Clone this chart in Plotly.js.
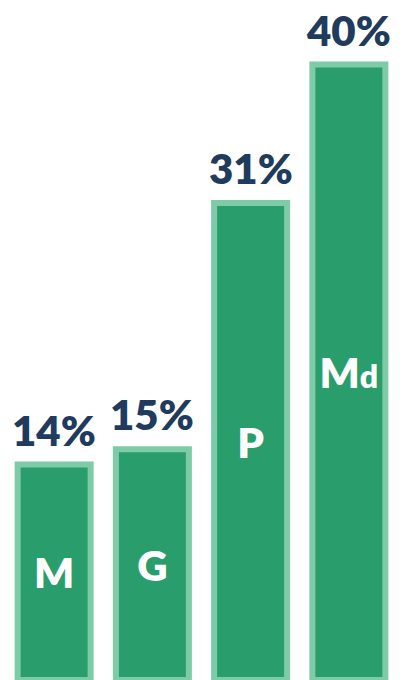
<!DOCTYPE html>
<html>
<head>
<meta charset="utf-8">
<script src="https://cdn.plot.ly/plotly-3.0.1.min.js"></script>
<style>html,body{margin:0;padding:0;background:#fff;}#chart{width:407px;height:680px;}</style>
</head>
<body>
<div id="chart"></div>
<script>
var categories = ["M", "G", "P", "Md"];
var barLabels = ["M", "G", "P", "M<span style='font-size:32px'>d</span>"];
var values = [14, 15, 31, 40];
var valueLabels = ["14%", "15%", "31%", "40%"];

var trace = {
  type: "bar",
  x: categories,
  y: values,
  text: barLabels,
  textposition: "inside",
  insidetextanchor: "middle",
  textangle: 0,
  constraintext: "none",
  textfont: {family: "Lato, 'Open Sans', sans-serif", size: 42, color: "#ffffff", weight: 800},
  marker: {color: "#2a9d6c", line: {color: "#7ecba7", width: 6}},
  hoverinfo: "none"
};

var annotations = categories.map(function (c, i) {
  return {
    x: c, y: values[i], xref: "x", yref: "y",
    text: valueLabels[i], showarrow: false,
    yanchor: "bottom", yshift: 8,
    font: {family: "Lato, 'Open Sans', sans-serif", size: 42, color: "#1f3b5d", weight: 800}
  };
});

var layout = {
  width: 407, height: 680,
  margin: {l: 5, r: 9, t: 0, b: 0, pad: 0},
  paper_bgcolor: "#ffffff", plot_bgcolor: "#ffffff",
  showlegend: false,
  bargap: 0.257,
  xaxis: {type: "category", range: [-0.5, 3.5], showticklabels: false, showgrid: false, zeroline: false, showline: false, ticks: ""},
  yaxis: {range: [0, 44.2], showticklabels: false, showgrid: false, zeroline: false, showline: false, ticks: ""},
  annotations: annotations
};

Plotly.newPlot("chart", [trace], layout, {displayModeBar: false, staticPlot: true});
</script>
</body>
</html>
